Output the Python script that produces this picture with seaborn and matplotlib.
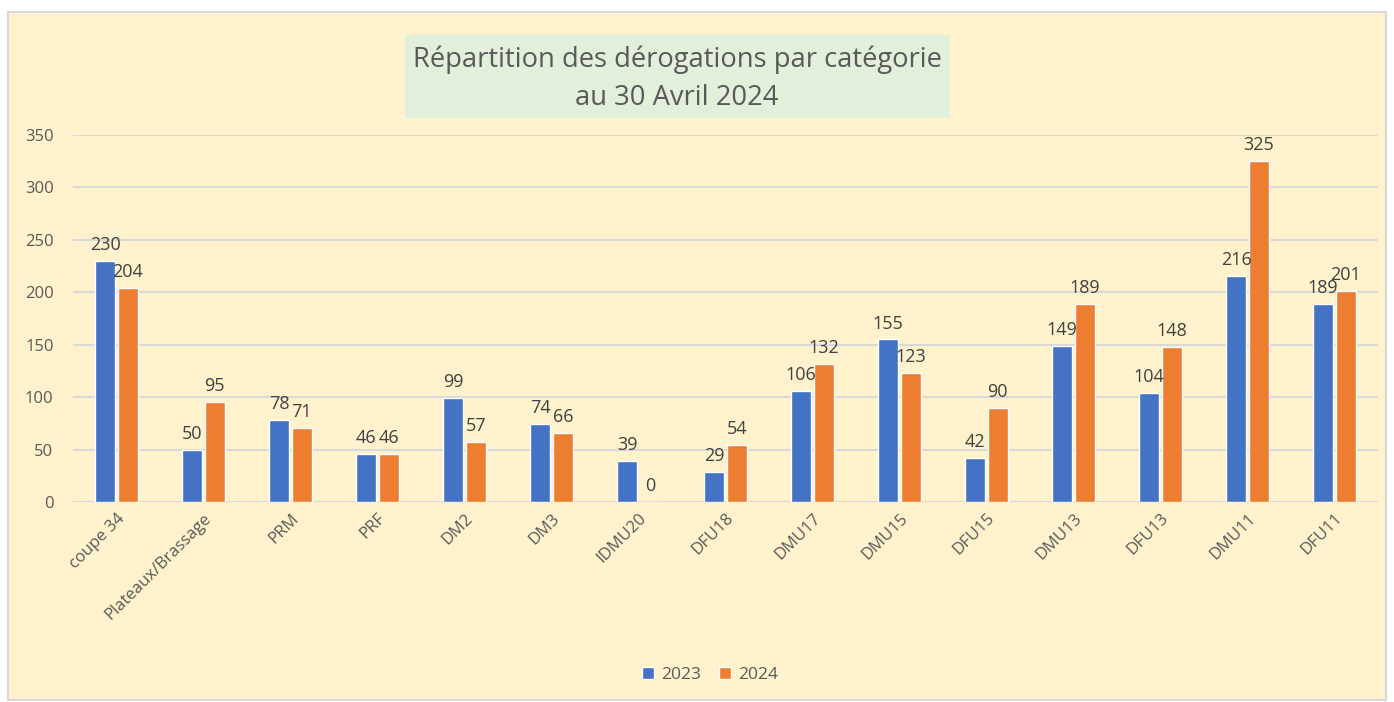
import matplotlib
matplotlib.use("Agg")
import matplotlib.pyplot as plt
import seaborn as sns
import pandas as pd
from matplotlib.patches import Rectangle, Patch

categories = ["coupe 34", "Plateaux/Brassage", "PRM", "PRF", "DM2", "DM3", "IDMU20",
              "DFU18", "DMU17", "DMU15", "DFU15", "DMU13", "DFU13", "DMU11", "DFU11"]
values_2023 = [230, 50, 78, 46, 99, 74, 39, 29, 106, 155, 42, 149, 104, 216, 189]
values_2024 = [204, 95, 71, 46, 57, 66, 0, 54, 132, 123, 90, 189, 148, 325, 201]
series = ["2023", "2024"]
colors = ["#4472C4", "#ED7D31"]
title_lines = ["Répartition des dérogations par catégorie", "au 30 Avril 2024"]

df = pd.DataFrame({
    "cat": categories * 2,
    "year": [series[0]] * len(categories) + [series[1]] * len(categories),
    "val": values_2023 + values_2024,
})

sns.set_theme(style="white")
plt.rcParams["font.family"] = ["Open Sans", "DejaVu Sans"]

fig = plt.figure(figsize=(13.94, 7.02), dpi=100)
fig.patch.set_facecolor("white")
W, H = 1394, 702
# chart area background with border
fig.patches.append(Rectangle((8 / W, 1 - 700 / H), (1386 - 8) / W, (700 - 12) / H,
                             transform=fig.transFigure, facecolor="#FFF2CC",
                             edgecolor="#D9D9D9", linewidth=1.5, zorder=-2))
# title box
fig.patches.append(Rectangle((405 / W, 1 - 118 / H), (950 - 405) / W, (118 - 35) / H,
                             transform=fig.transFigure, facecolor="#E2EFDA",
                             edgecolor="none", zorder=-1))
fig.text(677 / W, 1 - 60 / H, title_lines[0], ha="center", va="center",
         fontsize=19.7, color="#595959")
fig.text(677 / W, 1 - 98 / H, title_lines[1], ha="center", va="center",
         fontsize=19.7, color="#595959")

ax = fig.add_axes([73 / W, 1 - 502 / H, (1378 - 73) / W, (502 - 135) / H])
ax.set_facecolor("none")
ax.set_zorder(1)

sns.barplot(data=df, x="cat", y="val", hue="year", palette=colors, ax=ax,
            width=0.52, gap=0.14, legend=False, saturation=1, order=categories,
            hue_order=series)

ax.set_ylim(0, 350)
ax.set_yticks(range(0, 351, 50))
ax.set_xlim(-0.5, len(categories) - 0.5)
ax.yaxis.grid(True, color="#D9D9D9", linewidth=1.5)
ax.set_axisbelow(True)
for s in ax.spines.values():
    s.set_visible(False)
ax.set_xlabel("")
ax.set_ylabel("")
ax.tick_params(axis="y", length=0, labelsize=12, labelcolor="#595959", pad=14)
ax.tick_params(axis="x", length=0, labelsize=12, labelcolor="#595959", pad=6)
plt.setp(ax.get_xticklabels(), rotation=45, ha="right", rotation_mode="anchor")

for cont in ax.containers:
    ax.bar_label(cont, fmt="%d", padding=5, fontsize=13, color="#404040")

handles = [Patch(facecolor=c, label=s) for c, s in zip(colors, series)]
fig.legend(handles=handles, loc="center", bbox_to_anchor=(710 / W, 1 - 675 / H),
           ncol=2, frameon=False, fontsize=12.5, handlelength=0.7, handleheight=0.7,
           columnspacing=1.0, handletextpad=0.4, labelcolor="#595959")

fig.savefig("out.png", dpi=100)
